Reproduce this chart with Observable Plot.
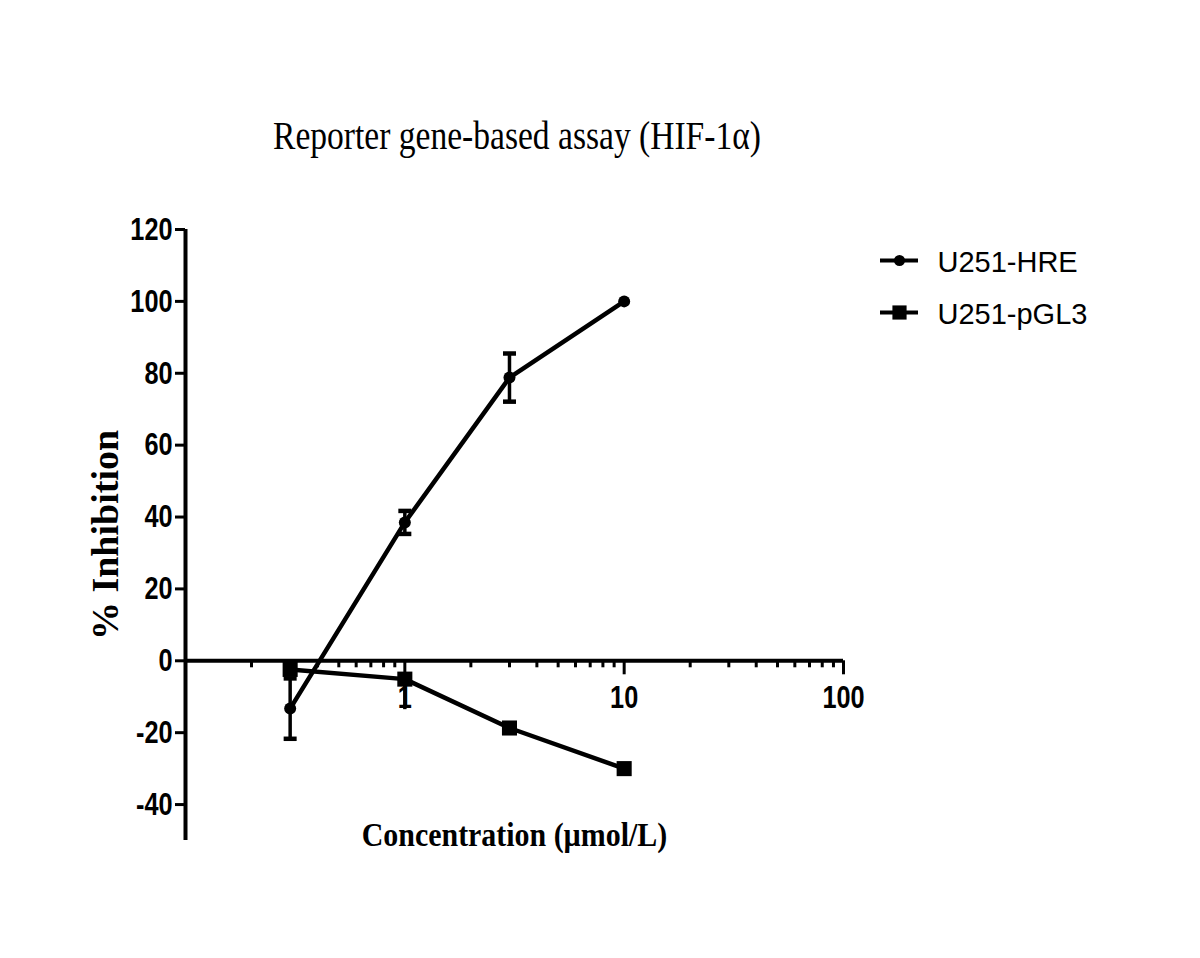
<!DOCTYPE html>
<html><head><meta charset="utf-8">
<script src="https://cdn.jsdelivr.net/npm/d3@7"></script>
<script src="https://cdn.jsdelivr.net/npm/@observablehq/plot@0.6"></script>
<style>
html,body{margin:0;padding:0;background:#fff;overflow:hidden;}
#wrap{position:relative;width:1200px;height:958px;}
#title{position:absolute;left:0;top:116px;width:1034px;text-align:center;font-family:"Liberation Serif","Times New Roman",serif;font-size:39px;line-height:39px;color:#000;transform:scaleX(0.86);transform-origin:517px 0;white-space:nowrap;}
#chart{position:absolute;left:0;top:200px;}
#legend{position:absolute;left:860px;top:230px;}
</style></head><body>
<div id="wrap"><div id="title"></div><div id="chart"></div><div id="legend"></div></div>
<script>
const titleText = "Reporter gene-based assay (HIF-1\u03B1)";
const xLabel = "Concentration (\u00B5mol/L)";
const yLabel = "% Inhibition";
const seriesNames = ["U251-HRE", "U251-pGL3"];
const concentrations = [0.3, 1, 3, 10];
const hreValues = [-13.3, 38.5, 78.8, 100];
const hreErrors = [8.4, 3.2, 6.7, 0];
const pgl3Values = [-2.4, -5.1, -18.7, -30];
const pgl3ErrorsLow = [0, 8.5, 0, 0];
const xDomain = [0.1, 100];
const yDomain = [-50, 120];
const yTicks = [-40, -20, 0, 20, 40, 60, 80, 100, 120];
const xMajorTicks = [1, 10, 100];
const xMinorTicks = [0.2, 0.3, 0.4, 0.5, 0.6, 0.7, 0.8, 0.9, 2, 3, 4, 5, 6, 7, 8, 9, 20, 30, 40, 50, 60, 70, 80, 90];

document.getElementById("title").textContent = titleText;

const W = 1200, H = 758, MT = 29, MB = 118, ML = 185, MR = 357;
const axisDy = -(0 - yDomain[0]) / (yDomain[1] - yDomain[0]) * (H - MT - MB);

const hre = concentrations.map((c, i) => ({x: c, y: hreValues[i], lo: hreValues[i] - hreErrors[i], hi: hreValues[i] + hreErrors[i], err: hreErrors[i]}));
const hreErr = hre.filter(d => d.err > 0);
const hreCaps = hreErr.flatMap(d => [{x: d.x, y: d.lo}, {x: d.x, y: d.hi}]);
const pgl = concentrations.map((c, i) => ({x: c, y: pgl3Values[i], lo: pgl3Values[i] - pgl3ErrorsLow[i], hi: pgl3Values[i], err: pgl3ErrorsLow[i]}));
const pglErr = pgl.filter(d => d.err > 0);

const capSymbol = {draw(ctx, size) { const w = Math.sqrt(size / Math.PI); ctx.moveTo(-w, 0); ctx.lineTo(w, 0); }};
const sansFont = "'Liberation Sans', Arial, sans-serif";
const serifFont = "'Liberation Serif', 'Times New Roman', serif";

const chart = Plot.plot({
  width: W, height: H, marginTop: MT, marginBottom: MB, marginLeft: ML, marginRight: MR,
  style: {fontFamily: sansFont, fontSize: "32px", fontWeight: "bold", color: "#000", background: "transparent"},
  x: {type: "log", domain: xDomain, axis: null},
  y: {domain: yDomain, axis: null},
  marks: [
    Plot.ruleX([xDomain[0]], {y1: yDomain[0], y2: yDomain[1], strokeWidth: 4}),
    Plot.ruleY([0], {x1: xDomain[0], x2: xDomain[1], strokeWidth: 4}),
    Plot.axisY(yTicks, {anchor: "left", tickSize: 10, tickPadding: 3, strokeWidth: 3, tickFormat: d => String(d), label: null}),
    Plot.axisX(xMinorTicks, {anchor: "bottom", tickSize: 7, strokeWidth: 3, dy: axisDy, tickFormat: () => "", label: null}),
    Plot.axisX(xMajorTicks, {anchor: "bottom", tickSize: 14, tickPadding: 10, strokeWidth: 3, dy: axisDy, tickFormat: d => String(d), label: null}),
    Plot.ruleX(hreErr, {x: "x", y1: "lo", y2: "hi", strokeWidth: 3.5}),
    Plot.dot(hreCaps, {x: "x", y: "y", symbol: capSymbol, r: 6.5, fill: "none", stroke: "black", strokeWidth: 4.5}),
    Plot.ruleX(pglErr, {x: "x", y1: "lo", y2: "hi", strokeWidth: 3.5}),
    Plot.line(hre, {x: "x", y: "y", stroke: "black", strokeWidth: 4.5}),
    Plot.dot(hre, {x: "x", y: "y", r: 6, fill: "black", stroke: "none"}),
    Plot.line(pgl, {x: "x", y: "y", stroke: "black", strokeWidth: 4.5}),
    Plot.dot(pgl, {x: "x", y: "y", r: 8.5, symbol: "square", fill: "black", stroke: "none"}),
    Plot.text([xLabel], {frameAnchor: "bottom", dy: -5, lineAnchor: "middle", fontFamily: serifFont, fontSize: 34, fontWeight: "bold"}),
    Plot.text([yLabel], {frameAnchor: "left", dx: -80, rotate: -90, textAnchor: "middle", lineAnchor: "middle", fontFamily: serifFont, fontSize: 38, fontWeight: "bold"})
  ]
});

function squeezeNode(node, sx, sy) {
  const t = node.getAttribute("transform");
  if (t) {
    node.setAttribute("transform", t + ` scale(${sx},${sy})`);
  } else {
    const x = +(node.getAttribute("x") || 0), y = +(node.getAttribute("y") || 0);
    node.removeAttribute("x"); node.removeAttribute("y");
    node.setAttribute("transform", `translate(${x},${y}) scale(${sx},${sy})`);
  }
}
d3.select(chart).selectAll("g[aria-label='y-axis tick label'] text").each(function() { squeezeNode(this, 0.79, 1); });
d3.select(chart).selectAll("g[aria-label='x-axis tick label'] text").each(function() { squeezeNode(this, 0.79, 1); });
d3.select(chart).selectAll("text").filter(function() { return this.textContent === xLabel; }).each(function() { squeezeNode(this, 0.88, 1); });
document.getElementById("chart").appendChild(chart);

const legend = Plot.plot({
  width: 330, height: 110, marginLeft: 20, marginRight: 272, marginTop: 0, marginBottom: 0,
  style: {fontFamily: sansFont, fontSize: "28px", color: "#000", background: "transparent"},
  x: {domain: [0, 1], axis: null},
  y: {type: "point", domain: seriesNames, range: [30, 82], padding: 0, axis: null},
  marks: [
    Plot.ruleY(seriesNames, {y: d => d, x1: 0, x2: 1, strokeWidth: 4}),
    Plot.dot([seriesNames[0]], {x: 0.5, y: d => d, r: 5.5, fill: "black", stroke: "none"}),
    Plot.dot([seriesNames[1]], {x: 0.5, y: d => d, r: 8, symbol: "square", fill: "black", stroke: "none"}),
    Plot.text(seriesNames, {x: 1, y: d => d, dx: 19, dy: 2, textAnchor: "start", lineAnchor: "middle", fontSize: 29})
  ]
});
document.getElementById("legend").appendChild(legend);
</script>
</body></html>
